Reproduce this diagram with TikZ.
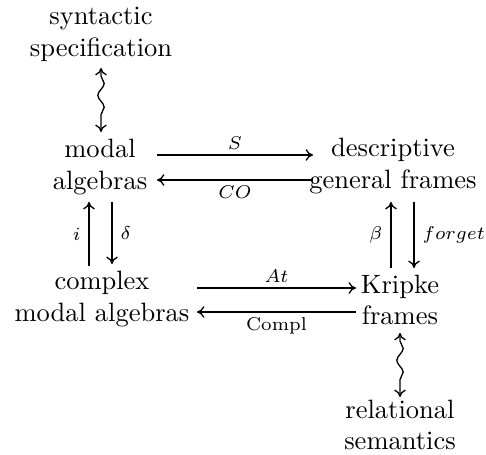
\documentclass[tikz,border=0pt]{standalone}
\usetikzlibrary{decorations.pathmorphing,arrows.meta}
\begin{document}
\begin{tikzpicture}[x=0.3774pt,y=-0.3774pt,
  obj/.style={align=center,inner sep=0pt},
  lab/.style={font=\scriptsize,inner sep=1pt},
  tip/.style={To[length=2.8pt,width=4.4pt]},
  arr/.style={-{To[length=2.8pt,width=4.4pt]},line width=0.5pt},
  wavy/.style={{To[length=2.8pt,width=4.4pt]}-{To[length=2.8pt,width=4.4pt]},line width=0.5pt,decorate,decoration={snake,amplitude=1.2pt,segment length=9pt,pre length=3pt,post length=3pt}}]
\useasboundingbox (0,0) rectangle (486,455);
\node[obj] (syn) at (101,34) {syntactic\\specification};
\node[obj] (ma) at (100,167) {modal\\algebras};
\node[obj] (dgf) at (393,166) {descriptive\\general frames};
\node[obj] (cma) at (102,299) {complex\\modal algebras};
\node[obj] (kf) at (400,300) {Kripke\\frames};
\node[obj] (rs) at (400,425) {relational\\semantics};
\coordinate (s1) at (157,155); \coordinate (s2) at (313,155);
\coordinate (c1) at (313,180); \coordinate (c2) at (157,180);
\draw[arr] (s1) -- node[lab,above=1pt] {$S$} (s2);
\draw[arr] (c1) -- node[lab,below=1pt] {$CO$} (c2);
\coordinate (i1) at (89,266); \coordinate (i2) at (89,202);
\coordinate (d1) at (112,202); \coordinate (d2) at (112,264);
\draw[arr] (i1) -- node[lab,left=2pt] {$i$} (i2);
\draw[arr] (d1) -- node[lab,right=2pt] {$\delta$} (d2);
\coordinate (b1) at (391,268); \coordinate (b2) at (391,202);
\coordinate (f1) at (414,202); \coordinate (f2) at (414,268);
\draw[arr] (b1) -- node[lab,left=2pt] {$\beta$} (b2);
\draw[arr] (f1) -- node[lab,right=2pt] {$forget$} (f2);
\coordinate (a1) at (197,288); \coordinate (a2) at (356,288);
\coordinate (k1) at (356,312); \coordinate (k2) at (197,312);
\draw[arr] (a1) -- node[lab,above=1pt] {$At$} (a2);
\draw[arr] (k1) -- node[lab,below=1pt] {$\mathrm{Compl}$} (k2);
\coordinate (w1) at (101,68); \coordinate (w2) at (101,132);
\coordinate (w3) at (400,333); \coordinate (w4) at (400,397);
\draw[wavy] (w1) -- (w2);
\draw[wavy] (w3) -- (w4);
\end{tikzpicture}
\end{document}
